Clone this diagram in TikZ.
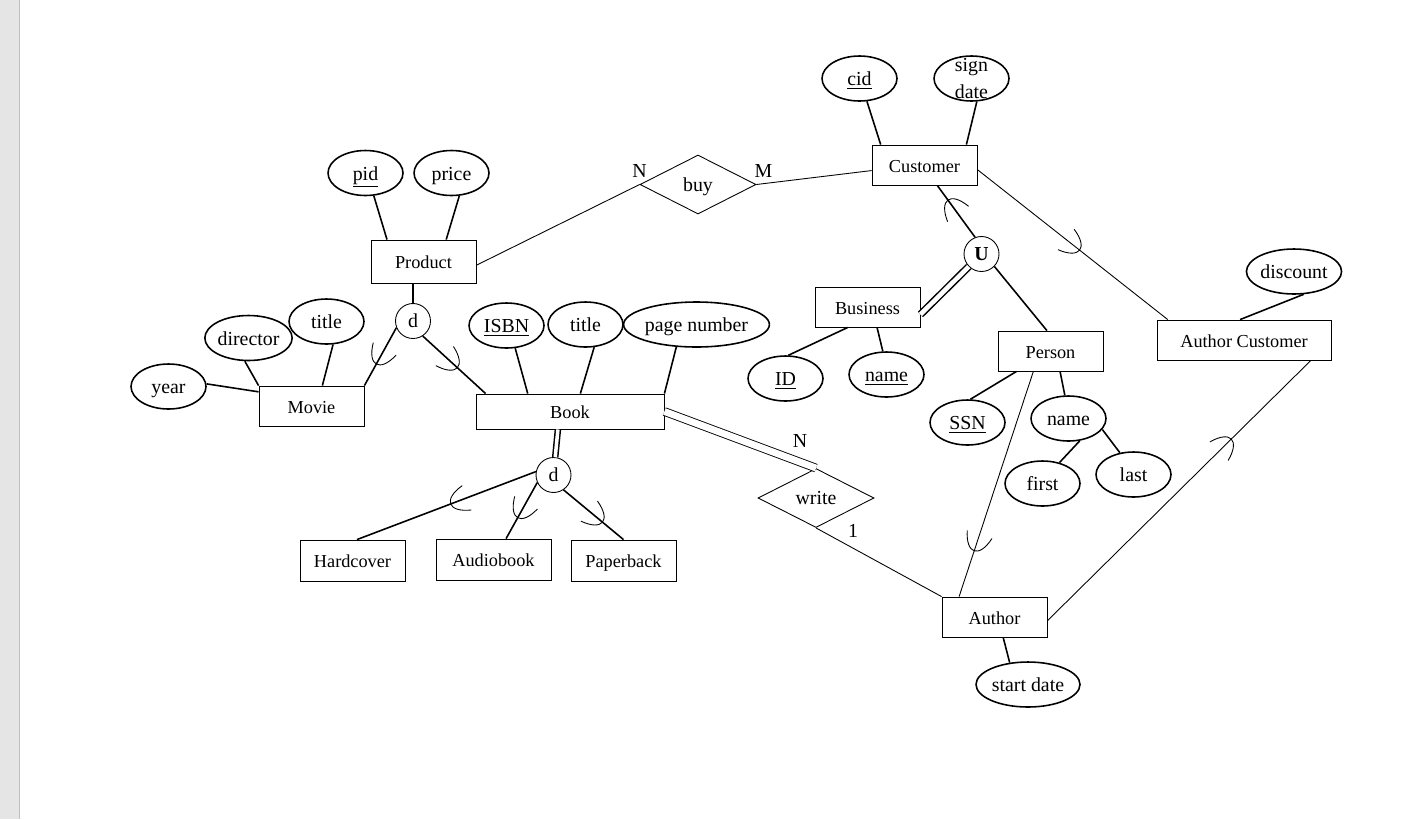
\documentclass[tikz,border=0pt]{standalone}
\usepackage{fontspec}
\setmainfont{Liberation Serif}
\usetikzlibrary{shapes.geometric,positioning,decorations.markings}
\newcommand{\entsize}{\fontsize{10.4}{12.5}\selectfont}
\newcommand{\attsize}{\fontsize{11.3}{15.3}\selectfont}
\tikzset{
  entity/.style={draw,line width=0.5pt,minimum width=#1,minimum height=0.8cm,inner sep=0pt,
    text height=0.8em,text depth=0pt,font=\entsize},
  entity/.default=2.1cm,
  attr/.style={ellipse,draw,line width=0.9pt,minimum width=#1,minimum height=0.9cm,inner sep=0pt,
    text height=0.8em,text depth=0pt,font=\attsize},
  attr/.default=1.5cm,
  rel/.style={diamond,draw,line width=0.5pt,aspect=2,minimum width=2.32cm,minimum height=1.18cm,
    inner sep=0pt,text height=0.75em,text depth=0pt,font=\attsize},
  spec/.style={circle,draw,line width=0.5pt,minimum size=0.7cm,inner sep=0pt,font=\attsize},
  card/.style={inner sep=0pt,font=\attsize},
  link/.style={line width=0.9pt},
  tie/.style={line width=0.5pt},
  twin/.style={double,double distance=#1},
  % subset mark, open side towards the start of the path
  cup/.style={postaction={decorate,decoration={markings,
    mark=at position #1 with {\draw[line width=0.5pt] (-18,-13) .. controls (5,-7) and (5,7) .. (-18,13);}}}},
}

\begin{document}
\begin{tikzpicture}[x=0.02cm,y=-0.02cm]
  \useasboundingbox (0,0) rectangle (1419,819);
  \fill[gray!20] (0,0) rectangle (19,819);
  \draw[gray!50,line width=0.6pt] (19.5,0) -- (19.5,819);

  % entities
  \foreach \n/\x/\y/\w/\h/\t in {
    Product/423.5/261.5/2.1cm/0.86cm/Product,
    Customer/924.5/165/2.1cm/0.8cm/Customer,
    Movie/311.5/406/2.1cm/0.8cm/Movie,
    Book/570/411.5/3.76cm/0.7cm/Book,
    Business/867.5/307/2.1cm/0.8cm/Business,
    Person/1050.5/351/2.1cm/0.8cm/Person,
    AuthCust/1244/340/3.48cm/0.8cm/Author Customer,
    Hardcover/352.5/560.5/2.1cm/0.82cm/Hardcover,
    Audiobook/493.5/559.5/2.3cm/0.82cm/Audiobook,
    Paperback/623.5/560.5/2.1cm/0.82cm/Paperback,
    Author/994.5/617/2.1cm/0.8cm/Author}
    \node[entity=\w,minimum height=\h] (\n) at (\x,\y) {\t};

  % attributes
  \foreach \n/\x/\y/\w/\t in {
    pid/365.5/173/1.5cm/\underline{pid},
    price/451.5/173/1.5cm/price,
    cid/859.5/78.5/1.5cm/\underline{cid},
    director/248.5/338/1.7cm/director,
    mtitle/326.5/321.5/1.5cm/title,
    year/168.5/386.5/1.5cm/year,
    isbn/506.5/325.5/1.5cm/\underline{ISBN},
    btitle/585.5/324.5/1.5cm/title,
    pages/696.5/324.5/2.62cm/page number,
    discount/1294/271.5/1.52cm/discount,
    bid/785.5/378.5/1.5cm/\underline{ID},
    bname/886.5/374.5/1.5cm/\underline{name},
    ssn/967.5/422.5/1.5cm/\underline{SSN},
    pname/1068.5/418.5/1.5cm/name,
    first/1042.5/483.5/1.5cm/first,
    last/1133.5/474.5/1.5cm/last,
    start/1028/684.5/2.08cm/start date}
    \node[attr=\w] (\n) at (\x,\y) {\t};
  \node[attr,label={[font=\attsize,align=center,inner sep=0pt]center:{sign\\date}}] (sign) at (971.5,78.5) {};

  % relationships and specialisation circles
  \node[rel] (buy) at (698,184.5) {buy};
  \node[rel] (write) at (816,498) {write};
  \node[spec] (d1) at (413,321) {d};
  \node[spec] (d2) at (553.5,475) {d};
  \node[spec] (U) at (981.5,254) {\textbf{U}};

  \node[card] (nBuy) at ([yshift=0.28cm]buy.west) {N};
  \node[card] (mBuy) at ([xshift=0.14cm,yshift=0.28cm]buy.east) {M};
  \node[card] (nWrite) at ([xshift=-0.32cm,yshift=0.54cm]write.north) {N};
  \node[card] (oneWrite) at ([xshift=0.74cm,yshift=-0.06cm]write.south) {1};

  % attribute lines
  \foreach \a/\b in {pid.-70/Product.149, price.-71/Product.44, cid.-72/Customer.155,
    sign.-77/Customer.26, director.261/Movie.north west, mtitle.-74/Movie.62, year.4/Movie.165,
    isbn.-69/Book.157, btitle.-69/Book.60, pages.228/Book.north east,
    Business.226/bid.83, Business.-65/bname.99, Person.211/ssn.83, Person.-65/pname.99,
    pname.-63/first.51, pname.-18/last.122, AuthCust.101/discount.-67, Author.-67/start.130,
    U.-44/Person.100}
    \draw[link] (\a) -- (\b);
  \draw[link] (d1) -- (Product.south -| d1);

  % specialisation lines with subset marks
  \foreach \a/\b/\p in {d1.202/Movie.north east/0.64, d1.-57/Book.168/0.56,
    d2.169/Hardcover.78/0.48, d2.205/Audiobook.59/0.64, d2.-56/Paperback.north/0.66,
    U.111/Customer.-58/0.73}
    \draw[link,cup=\p] (\a) -- (\b);
  \foreach \a/\b/\p in {Customer.-5/AuthCust.165/0.54, Author.-4/AuthCust.-17/0.7,
    Person.230/Author.150/0.8}
    \draw[tie,cup=\p] (\a) -- (\b);

  % double lines
  \draw[line width=0.85pt,twin=2pt] (Book.-124) -- (d2);
  \draw[line width=0.85pt,twin=2.6pt] (U) -- (Business.-8);
  \draw[line width=0.5pt,twin=3.9pt] (Book.east) -- (write.north);

  % relationship lines
  \draw[tie] (Product.-4) -- (buy.west);
  \draw[tie] (buy.east) -- (Customer.186);
  \draw[tie] (write.south) -- (Author.north west);
\end{tikzpicture}
\end{document}
